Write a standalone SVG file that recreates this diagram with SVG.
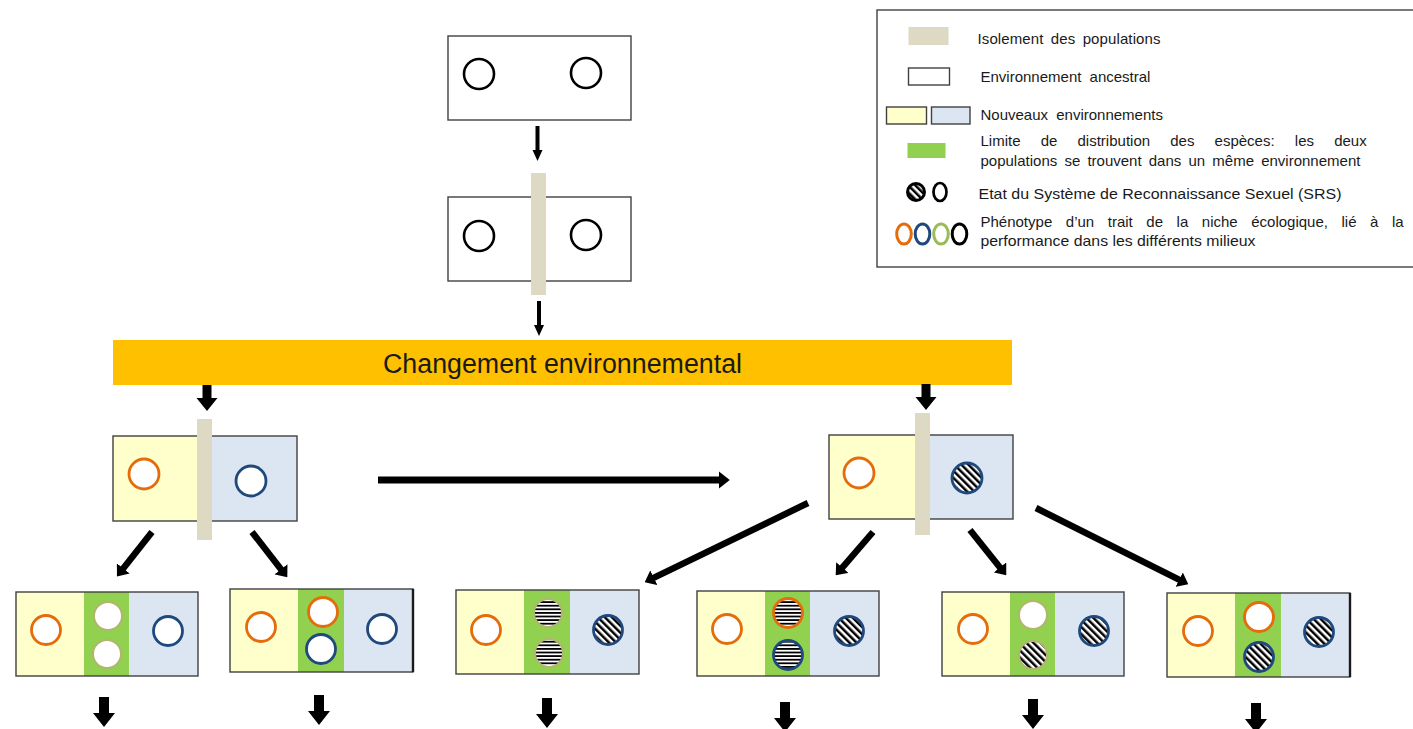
<svg xmlns="http://www.w3.org/2000/svg" width="1413" height="729" viewBox="0 0 1413 729">
<style>
.t{font-family:"Liberation Sans",Arial,sans-serif;fill:#1a1a1a}
.lg{font-size:15px}
.box{fill:none;stroke:#404040;stroke-width:1.4}
.wbox{fill:#fff;stroke:#404040;stroke-width:1.4}
.y{fill:#FFFFCC}
.b{fill:#DCE6F2}
.g{fill:#92D050}
.bar{fill:#DDD9C3}
.ko{fill:#fff;stroke:#000;stroke-width:2.6}
.oc{fill:#fff;stroke:#E46C0A;stroke-width:2.8}
.bc{fill:#fff;stroke:#1F497D;stroke-width:2.8}
.od{fill:url(#diag);stroke:#1F497D;stroke-width:2.8}
.ol{fill:#fff;stroke:#B2B56E;stroke-width:2}
.olh{fill:url(#hs);stroke:#B2B56E;stroke-width:2}
.old{fill:url(#diag);stroke:#B2B56E;stroke-width:2}
.ohs{fill:url(#hs);stroke:#E46C0A;stroke-width:2.8}
.bhs{fill:url(#hs);stroke:#1F497D;stroke-width:2.8}
.ln{stroke:#000;fill:none;marker-end:url(#ah)}
.edge{stroke:#1a1a1a;stroke-width:2.4}
</style>
<defs>
<pattern id="diag" patternUnits="userSpaceOnUse" width="5" height="5" patternTransform="rotate(-45)">
<rect width="5" height="5" fill="#fff"/><rect width="2.5" height="5" fill="#000"/>
</pattern>
<pattern id="hs" patternUnits="userSpaceOnUse" width="4" height="3.6">
<rect width="4" height="3.6" fill="#fff"/><rect width="4" height="1.8" fill="#000"/>
</pattern>
<marker id="ah" viewBox="0 0 10 16" refX="2" refY="8" markerWidth="1.6" markerHeight="2.5" orient="auto">
<path d="M0,0 L10,8 L0,16 z" fill="#000"/>
</marker>
<path id="bigdown" d="M-5,0 H5 V16 H11 L0,30 L-11,16 H-5 Z" fill="#000"/>
<path id="middown" d="M-4.5,0 H4.5 V13 H10.5 L0,26 L-10.5,13 H-4.5 Z" fill="#000"/>
<path id="thindown" d="M-2,0 H2 V24 H5 L0,35 L-5,24 H-2 Z" fill="#000"/>
</defs>
<rect width="1413" height="729" fill="#fff"/>

<g id="legend">
<rect x="877" y="10" width="545" height="257" fill="#fff" stroke="#404040" stroke-width="1.4"/>
<rect x="908.5" y="27" width="40" height="18" class="bar"/>
<text class="t lg" x="977.5" y="44" textLength="183" lengthAdjust="spacing" word-spacing="3">Isolement  des populations</text>
<rect x="908.5" y="68" width="41" height="17" class="wbox"/>
<text class="t lg" x="980.5" y="82" word-spacing="4">Environnement ancestral</text>
<rect x="886.5" y="107" width="40" height="17" class="y" stroke="#404040" stroke-width="1.4"/>
<rect x="931.5" y="107" width="38.5" height="17" class="b" stroke="#404040" stroke-width="1.4"/>
<text class="t lg" x="980.5" y="120" word-spacing="4">Nouveaux environnements</text>
<rect x="907.5" y="143" width="38" height="15" class="g"/>
<text class="t lg" x="980.5" y="146" word-spacing="16">Limite de distribution des espèces: les deux</text>
<text class="t lg" x="980.5" y="166" word-spacing="3">populations se trouvent dans un même environnement</text>
<circle cx="916" cy="192" r="8.5" fill="url(#diag)" stroke="#000" stroke-width="3"/>
<ellipse cx="940" cy="192" rx="6.5" ry="9" fill="none" stroke="#000" stroke-width="2.7"/>
<text class="t lg" x="978.5" y="199" textLength="363" lengthAdjust="spacingAndGlyphs">Etat du Système de Reconnaissance Sexuel (SRS)</text>
<ellipse cx="904" cy="234" rx="7.3" ry="10" fill="none" stroke="#E46C0A" stroke-width="3"/>
<ellipse cx="922.5" cy="234" rx="7.3" ry="10" fill="none" stroke="#1F497D" stroke-width="3"/>
<ellipse cx="941" cy="234" rx="7.3" ry="10" fill="none" stroke="#9BBB59" stroke-width="3"/>
<ellipse cx="959.5" cy="234" rx="7.3" ry="10" fill="none" stroke="#000" stroke-width="3"/>
<text class="t lg" x="980.5" y="227" word-spacing="9.4">Phénotype d’un trait de la niche écologique, lié à la</text>
<text class="t lg" x="980.5" y="246" textLength="275" lengthAdjust="spacingAndGlyphs">performance dans les différents milieux</text>
</g>

<g id="ancestral">
<rect x="448" y="36" width="183" height="84" class="wbox"/>
<circle cx="479" cy="74" r="15" class="ko"/>
<circle cx="586" cy="73" r="15" class="ko"/>
</g>

<g id="isolement">
<rect x="448" y="197" width="183" height="84" class="wbox"/>
<circle cx="479" cy="236" r="15" class="ko"/>
<circle cx="586" cy="235" r="15" class="ko"/>
<rect x="531" y="173" width="15" height="122" class="bar"/>
</g>

<g id="changement">
<rect x="113" y="340" width="899" height="45" fill="#FFC000"/>
<text class="t" x="383" y="373" font-size="27" textLength="359" lengthAdjust="spacingAndGlyphs" fill="#000">Changement environnemental</text>
</g>

<g id="milieu-gauche">
<rect x="113" y="436" width="84" height="85" class="y"/>
<rect x="197" y="436" width="100" height="85" class="b"/>
<rect x="113" y="436" width="184" height="85" class="box"/>
<rect x="197" y="419" width="15" height="121" class="bar"/>
<circle cx="144" cy="474" r="15" class="oc"/>
<circle cx="251" cy="481" r="15" class="bc"/>
</g>

<g id="milieu-droit">
<rect x="829" y="435" width="86" height="84" class="y"/>
<rect x="915" y="435" width="98" height="84" class="b"/>
<rect x="829" y="435" width="184" height="84" class="box"/>
<rect x="915" y="413" width="15" height="122" class="bar"/>
<circle cx="859" cy="473" r="15" class="oc"/>
<circle cx="967" cy="478" r="15" class="od"/>
</g>

<g id="bas-1">
<rect x="16" y="592" width="68" height="84" class="y"/>
<rect x="84" y="592" width="45" height="84" class="g"/>
<rect x="129" y="592" width="69" height="84" class="b"/>
<rect x="16" y="592" width="182" height="84" class="box"/>
<circle cx="46" cy="630" r="14.5" class="oc"/>
<circle cx="108" cy="616" r="14" class="ol"/>
<circle cx="107" cy="654" r="14" class="ol"/>
<circle cx="168" cy="631" r="14.5" class="bc"/>
</g>

<g id="bas-2">
<rect x="230" y="589" width="68" height="83" class="y"/>
<rect x="298" y="589" width="46" height="83" class="g"/>
<rect x="344" y="589" width="69" height="83" class="b"/>
<rect x="230" y="589" width="183" height="83" class="box"/>
<line x1="413" y1="589" x2="413" y2="672" class="edge"/>
<circle cx="261" cy="627" r="14.5" class="oc"/>
<circle cx="323" cy="612" r="14.5" class="oc"/>
<circle cx="321" cy="649" r="14.5" class="bc"/>
<circle cx="382" cy="629" r="14.5" class="bc"/>
</g>

<g id="bas-3">
<rect x="456" y="590" width="68" height="84" class="y"/>
<rect x="524" y="590" width="46" height="84" class="g"/>
<rect x="570" y="590" width="69" height="84" class="b"/>
<rect x="456" y="590" width="183" height="84" class="box"/>
<circle cx="486" cy="630" r="14.5" class="oc"/>
<circle cx="548" cy="613" r="14" class="olh"/>
<circle cx="549" cy="653" r="14" class="olh"/>
<circle cx="608" cy="630" r="14.5" class="od"/>
</g>

<g id="bas-4">
<rect x="697" y="591" width="68" height="85" class="y"/>
<rect x="765" y="591" width="45" height="85" class="g"/>
<rect x="810" y="591" width="69" height="85" class="b"/>
<rect x="697" y="591" width="182" height="85" class="box"/>
<circle cx="727" cy="629" r="14.5" class="oc"/>
<circle cx="788" cy="613" r="14.5" class="ohs"/>
<circle cx="788" cy="655" r="14.5" class="bhs"/>
<circle cx="849" cy="631" r="14.5" class="od"/>
</g>

<g id="bas-5">
<rect x="942" y="592" width="68" height="84" class="y"/>
<rect x="1010" y="592" width="45" height="84" class="g"/>
<rect x="1055" y="592" width="69" height="84" class="b"/>
<rect x="942" y="592" width="182" height="84" class="box"/>
<circle cx="973" cy="629" r="14.5" class="oc"/>
<circle cx="1033" cy="615" r="14" class="ol"/>
<circle cx="1033" cy="655" r="14" class="old"/>
<circle cx="1094" cy="631" r="14.5" class="od"/>
</g>

<g id="bas-6">
<rect x="1167" y="593" width="68" height="84" class="y"/>
<rect x="1235" y="593" width="46" height="84" class="g"/>
<rect x="1281" y="593" width="69" height="84" class="b"/>
<rect x="1167" y="593" width="183" height="84" class="box"/>
<line x1="1350" y1="593" x2="1350" y2="677" class="edge"/>
<circle cx="1198" cy="631" r="14.5" class="oc"/>
<circle cx="1259" cy="617" r="14.5" class="oc"/>
<circle cx="1259" cy="657" r="14.5" class="od"/>
<circle cx="1319" cy="632" r="14.5" class="od"/>
</g>

<g id="connecteurs">
<use href="#thindown" x="537.5" y="126"/>
<use href="#thindown" x="539" y="301"/>
<use href="#middown" x="207" y="385"/>
<use href="#middown" x="926" y="384"/>
<line class="ln" x1="378" y1="480" x2="721" y2="480" stroke-width="7"/>
<line class="ln" x1="152" y1="532" x2="122" y2="570" stroke-width="6.5"/>
<line class="ln" x1="252" y1="532" x2="282.3" y2="570.9" stroke-width="6.5"/>
<line class="ln" x1="808" y1="503" x2="652" y2="578.6" stroke-width="6.5"/>
<line class="ln" x1="873" y1="532" x2="841" y2="569.2" stroke-width="6.5"/>
<line class="ln" x1="970" y1="530" x2="1001.2" y2="569" stroke-width="6.5"/>
<line class="ln" x1="1036" y1="508" x2="1181" y2="580.6" stroke-width="6.5"/>
<use href="#bigdown" x="104" y="697"/>
<use href="#bigdown" x="319" y="695"/>
<use href="#bigdown" x="547" y="698"/>
<use href="#bigdown" x="785" y="702"/>
<use href="#bigdown" x="1033" y="699"/>
<use href="#bigdown" x="1256" y="703"/>
</g>
</svg>
